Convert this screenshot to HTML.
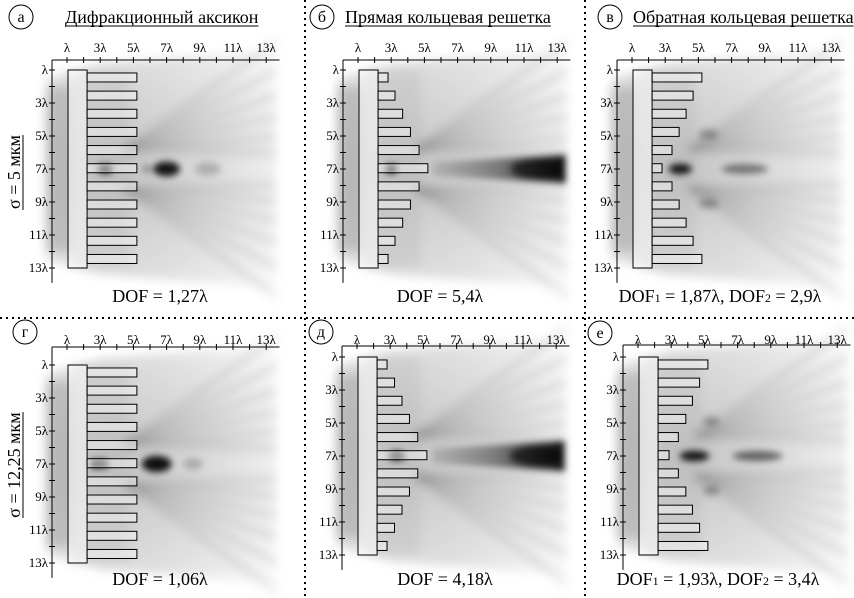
<!DOCTYPE html>
<html><head><meta charset="utf-8"><style>
html,body{margin:0;padding:0;background:#fff}
svg{display:block}
text{font-family:"Liberation Serif","DejaVu Serif",serif}
</style></head><body>
<svg id="fig" width="854" height="598" viewBox="0 0 854 598" xmlns="http://www.w3.org/2000/svg">
<defs>
<filter id="blur" x="-20%" y="-20%" width="140%" height="140%"><feGaussianBlur stdDeviation="5"/></filter>
<filter id="blur2" x="-40%" y="-60%" width="180%" height="220%"><feGaussianBlur stdDeviation="3.5"/></filter>
<radialGradient id="haze" cx="0.3" cy="0.5" r="0.8">
<stop offset="0" stop-color="#b8b8b8"/><stop offset="0.6" stop-color="#dadada"/><stop offset="1" stop-color="#f6f6f6"/>
</radialGradient>
<linearGradient id="beam" x1="0" y1="0" x2="1" y2="0">
<stop offset="0" stop-color="#000" stop-opacity="0.12"/><stop offset="0.5" stop-color="#000" stop-opacity="0.45"/><stop offset="1" stop-color="#000" stop-opacity="0.95"/>
</linearGradient>
</defs>
<g id="sep">
<line x1="0" y1="318" x2="854" y2="318" stroke="#000" stroke-width="2" stroke-dasharray="2,4"/>
<line x1="305" y1="0" x2="305" y2="598" stroke="#000" stroke-width="2" stroke-dasharray="2,4"/>
<line x1="585" y1="0" x2="585" y2="598" stroke="#000" stroke-width="2" stroke-dasharray="2,4"/>
</g>
<g>
<text transform="translate(20,172) rotate(-90)" text-anchor="middle" font-size="18" font-family="Liberation Serif, serif">σ = 5 мкм</text>
<line x1="23" y1="135" x2="23" y2="210" stroke="#000" stroke-width="1"/>
</g>
<g>
<text transform="translate(20,465) rotate(-90)" text-anchor="middle" font-size="18" font-family="Liberation Serif, serif">σ = 12,25 мкм</text>
<line x1="23" y1="412" x2="23" y2="518" stroke="#000" stroke-width="1"/>
</g>
<g id="panels"></g>
</svg>
<script>
// ---- data ----
const panelIds = ['a','b','c','g','d','e'];
const panelLetters = ['а','б','в','г','д','е'];
const panelTitles = ['Дифракционный аксикон','Прямая кольцевая решетка','Обратная кольцевая решетка','','',''];
const dofLabels = [['DOF = 1,27λ'],['DOF = 5,4λ'],['DOF','1',' = 1,87λ, DOF','2',' = 2,9λ'],['DOF = 1,06λ'],['DOF = 4,18λ'],['DOF','1',' = 1,93λ, DOF','2',' = 3,4λ']];
const xTickLabels = ['λ','3λ','5λ','7λ','9λ','11λ','13λ'];
const xTickValues = [1,3,5,7,9,11,13];
const yTickLabels = ['λ','3λ','5λ','7λ','9λ','11λ','13λ'];
const yTickValues = [1,3,5,7,9,11,13];
// bar lengths (in λ) for 11 rings, top to bottom
const barsA = [3.0,3.0,3.0,3.0,3.0,3.0,3.0,3.0,3.0,3.0,3.0];
const barsB = [0.6,1.02,1.48,1.95,2.47,3.0,2.47,1.95,1.48,1.02,0.6];
const barsC = [3.0,2.47,2.05,1.63,1.2,0.6,1.2,1.63,2.05,2.47,3.0];
const barsG = [3.0,3.0,3.0,3.0,3.0,3.0,3.0,3.0,3.0,3.0,3.0];
const barsD = [0.6,1.05,1.5,1.95,2.45,3.0,2.45,1.95,1.5,1.05,0.6];
const barsE = [3.0,2.5,2.07,1.67,1.22,0.66,1.22,1.67,2.07,2.5,3.0];
// intensity spots: [x(λ), y(λ), rx(λ), ry(λ), darkness 0..1]
const spotsA = [[7.0,7,0.8,0.45,0.9],[3.3,7,0.45,0.3,0.75],[9.5,7,0.8,0.4,0.2],[5.8,7,0.3,0.3,0.25]];
const spotsB = [[11.8,7,1.6,0.6,0.6],[3.0,7,0.35,0.3,0.8]];
const spotsC = [[3.9,7,0.7,0.32,0.9],[7.8,7,1.4,0.3,0.45],[5.6,4.9,0.6,0.3,0.28],[5.6,9.1,0.6,0.3,0.28]];
const spotsG = [[6.4,7,0.9,0.5,0.92],[2.7,7,0.3,0.3,0.8],[3.2,7,0.3,0.3,0.7],[8.6,7,0.6,0.35,0.2]];
const spotsD = [[11.8,7,1.6,0.6,0.6],[3.4,7,0.5,0.3,0.7]];
const spotsE = [[4.4,7,0.9,0.32,0.9],[8.2,7,1.5,0.3,0.55],[5.4,4.9,0.5,0.3,0.28],[5.4,9.1,0.5,0.3,0.28]];
// long focal beam: [start x(λ), end x(λ), half height(λ)] or empty
const beamB = [5.5,13.5,0.85];
const beamD = [5.5,13.5,0.9];
const bars = [barsA,barsB,barsC,barsG,barsD,barsE];
const spots = [spotsA,spotsB,spotsC,spotsG,spotsD,spotsE];
const beams = [null,beamB,null,null,beamD,null];

// ---- layout (positions only) ----
const layout = [
 {L:67, T:60, Y1:70, lab:47, circ:[21,17], title:[65,23], dof:[160,302]},
 {L:358,T:60, Y1:70, lab:47, circ:[322,17], title:[345,23], dof:[440,302]},
 {L:632,T:60, Y1:70, lab:47, circ:[610,17], title:[633,23], dof:[720,302]},
 {L:67, T:347,Y1:365,lab:339,circ:[25,332], title:null, dof:[160,585]},
 {L:357,T:346,Y1:357,lab:339,circ:[321,332], title:null, dof:[445,585]},
 {L:638,T:345,Y1:357,lab:339,circ:[600,333], title:null, dof:[718,585]}
];
const U = 16.6, V = 16.5;
const NS='http://www.w3.org/2000/svg';
function mk(tag, attrs, parent){const e=document.createElementNS(NS,tag);for(const k in attrs)e.setAttribute(k,attrs[k]);if(parent)parent.appendChild(e);return e;}
const root=document.getElementById('panels');
const FF='Liberation Serif, DejaVu Serif, serif';

panelIds.forEach((pid,i)=>{
 const P=layout[i];
 const X=k=>P.L+(k-1)*U;
 const Y=k=>P.Y1+(k-1)*V;
 const g=mk('g',{},root);
 
 

 // field
 const f=mk('g',{filter:'url(#blur)'},g);
 
 
 const fx0=X(-0.2), fx1=X(13.6);
 mk('path',{d:`M${fx0} ${Y(1.5)} L${X(3)} ${Y(0.6)} L${fx1} ${Y(-0.2)} L${fx1} ${Y(14.2)} L${X(3)} ${Y(13.4)} L${fx0} ${Y(12.5)} Z`,fill:'url(#haze)',opacity:0.85},f);
 mk('rect',{x:X(-0.3),y:Y(2),width:U*1.6,height:V*10,fill:'#888',opacity:0.35},f);
 mk('rect',{x:X(1.3),y:Y(1),width:U*3.5,height:V*12,fill:'#aaa',opacity:0.25},f);
 const ox=X(4.5), oy=Y(7);
 [-40,-33,-26,-19,-12,-6,6,12,19,26,33,40].forEach((a,j)=>{
  const r=Math.PI*a/180, len=(fx1-ox)/Math.cos(r);
  mk('line',{x1:ox,y1:oy+Math.sign(a)*V*1.2,x2:ox+len*Math.cos(r),y2:oy+len*Math.sin(r),stroke:'#777',"stroke-width":7,opacity:0.2},f);
 });
 const sp=mk('g',{filter:'url(#blur2)'},g);
 if(beams[i]){
  const b=beams[i];
  const e=mk('path',{d:`M${X(b[0])} ${Y(7)-b[2]*V*0.5} L${X(b[1])} ${Y(7)-b[2]*V} L${X(b[1])} ${Y(7)+b[2]*V} L${X(b[0])} ${Y(7)+b[2]*V*0.5} Z`,fill:'url(#beam)'},sp);
  
  
 }
 spots[i].forEach((s,j)=>{
  const e=mk('ellipse',{cx:X(s[0]),cy:Y(s[1]),rx:s[2]*U,ry:s[3]*V,fill:'#000',opacity:s[4]},sp);
  
  
 });

 // substrate
 const sub=mk('rect',{x:X(1.06),y:Y(1),width:U*1.15,height:V*12,fill:'#fff','fill-opacity':0.55,stroke:'#000','stroke-width':1},g);
 
 
 bars[i].forEach((b,j)=>{
  const r=mk('rect',{x:X(2.21),y:Y(1.18+j*1.1),width:b*U,height:9,fill:'#fff','fill-opacity':0.4,stroke:'#000','stroke-width':1},g);
  
  
 });

 // axes
 const ax=mk('g',{stroke:'#000','stroke-width':1},g);
 
 
 mk('line',{x1:P.L-15,y1:P.T,x2:X(13.8),y2:P.T},ax);
 mk('line',{x1:P.L-15,y1:P.T,x2:P.L-15,y2:Y(13.9)},ax);
 for(let k=1;k<=13;k++){
  mk('line',{x1:X(k),y1:P.T-3,x2:X(k),y2:P.T+3},ax);
  mk('line',{x1:P.L-18,y1:Y(k),x2:P.L-12,y2:Y(k)},ax);
 }
 xTickLabels.forEach((t,j)=>{
  const e=mk('text',{x:X(xTickValues[j]),y:P.lab+5,'font-size':13,'text-anchor':'middle','font-family':FF},g);
  e.textContent=t;
  
  
 });
 yTickLabels.forEach((t,j)=>{
  const e=mk('text',{x:P.L-19,y:Y(yTickValues[j])+4,'font-size':13,'text-anchor':'end','font-family':FF},g);
  e.textContent=t;
  
  
 });

 // letter circle
 const c=mk('circle',{cx:P.circ[0],cy:P.circ[1],r:12,fill:'none',stroke:'#000','stroke-width':1},g);
 
 
 const lt=mk('text',{x:P.circ[0],y:P.circ[1]+5,'font-size':16,'text-anchor':'middle','font-family':FF},g);
 lt.textContent=panelLetters[i];
 
 
 if(P.title){
  const tt=mk('text',{x:P.title[0],y:P.title[1],'font-size':18,'font-family':FF},g);
  tt.textContent=panelTitles[i];
  
  
  const w=tt.getComputedTextLength();
  mk('line',{x1:P.title[0],y1:P.title[1]+3,x2:P.title[0]+w,y2:P.title[1]+3,stroke:'#000','stroke-width':1},g);
 }
 const dt=mk('text',{x:P.dof[0],y:P.dof[1],'font-size':18,'text-anchor':'middle','font-family':FF},g);
 
 
 dofLabels[i].forEach((s,j)=>{
  const ts=mk('tspan',{},dt);
  if(s==='1'||s==='2'){ts.setAttribute('font-size','12');}
  ts.textContent=s;
 });
});
</script>
</body></html>
